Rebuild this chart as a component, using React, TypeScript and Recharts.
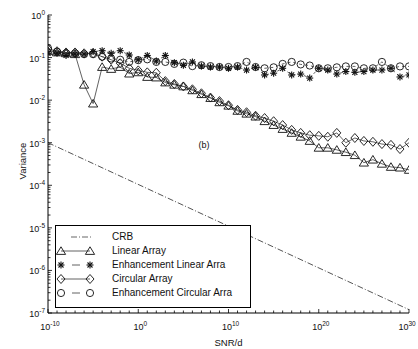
import React from 'react';
import { ComposedChart, Line, XAxis, YAxis, Legend, ReferenceDot, Label } from 'recharts';

// SNR/d sample points (one per decade)
const snr = [1e-10, 1e-9, 1e-8, 1e-7, 1e-6, 1e-5, 1e-4, 1e-3, 1e-2, 1e-1, 1e0, 1e1, 1e2, 1e3, 1e4, 1e5, 1e6, 1e7, 1e8, 1e9, 1e10,
  1e11, 1e12, 1e13, 1e14, 1e15, 1e16, 1e17, 1e18, 1e19, 1e20, 1e21, 1e22, 1e23, 1e24, 1e25, 1e26, 1e27, 1e28, 1e29, 1e30];

const linearArray = [0.141, 0.132, 0.126, 0.12, 0.023, 0.0083, 0.06, 0.054, 0.06, 0.042, 0.045, 0.035, 0.034, 0.026, 0.023, 0.021, 0.017, 0.0138, 0.0112, 0.0089, 0.0074,
  0.0056, 0.0048, 0.0041, 0.0032, 0.0026, 0.0021, 0.0017, 0.00138, 0.0011, 0.00076, 0.00076, 0.00068, 0.0006, 0.00051, 0.00034, 0.0004, 0.00032, 0.00027, 0.00026, 0.00023];

const enhLinearArray = [0.126, 0.126, 0.112, 0.12, 0.12, 0.138, 0.145, 0.126, 0.145, 0.115, 0.089, 0.112, 0.083, 0.112, 0.076, 0.066, 0.079, 0.063, 0.06, 0.06, 0.056,
  0.06, 0.051, 0.059, 0.039, 0.043, 0.056, 0.039, 0.041, 0.033, 0.056, 0.051, 0.041, 0.047, 0.045, 0.047, 0.051, 0.051, 0.056, 0.035, 0.039];

const circularArray = [0.158, 0.141, 0.132, 0.132, 0.126, 0.126, 0.105, 0.089, 0.074, 0.056, 0.05, 0.045, 0.044, 0.028, 0.024, 0.021, 0.018, 0.0145, 0.0115, 0.0095, 0.0076,
  0.0059, 0.0052, 0.0043, 0.0038, 0.0032, 0.0026, 0.002, 0.0017, 0.0015, 0.00145, 0.00138, 0.0017, 0.001, 0.00129, 0.0011, 0.00105, 0.00093, 0.00089, 0.00071, 0.001];

const enhCircularArray = [0.166, 0.138, 0.126, 0.126, 0.12, 0.12, 0.105, 0.095, 0.089, 0.079, 0.087, 0.091, 0.079, 0.079, 0.071, 0.076, 0.063, 0.066, 0.063, 0.06, 0.06,
  0.063, 0.079, 0.06, 0.056, 0.059, 0.071, 0.079, 0.069, 0.065, 0.056, 0.056, 0.059, 0.062, 0.062, 0.056, 0.056, 0.079, 0.056, 0.062, 0.062];

// CRB straight line in log-log (end points)
const crbSnr = [1e-10, 1e30];
const crbValues = [1e-3, 1.2e-7];

const xTickLabels = [1e-10, 1e0, 1e10, 1e20, 1e30];
const yTickLabels = [1e-7, 1e-6, 1e-5, 1e-4, 1e-3, 1e-2, 1e-1, 1e0];
const legendNames = ['CRB', 'Linear Array', 'Enhancement Linear Arra', 'Circular Array', 'Enhancement Circular Arra'];
const panelLabel = '(b)';

const yTicks: number[] = [];
yTickLabels.forEach((d, i) => {
  yTicks.push(d);
  if (i < yTickLabels.length - 1) for (let m = 2; m <= 9; m++) yTicks.push(d * m);
});

const rows = snr.map((s, i) => ({
  snr: s,
  la: linearArray[i],
  ela: enhLinearArray[i],
  ca: circularArray[i],
  eca: enhCircularArray[i],
}));
const crbRows = crbSnr.map((s, i) => ({ snr: s, crb: crbValues[i] }));

const FONT = '"Liberation Sans", Arial, Helvetica, sans-serif';
const INK = '#111';
const LINE = '#3a3a3a';

const expOf = (v: number) => Math.round(Math.log10(v));
const isDecade = (v: number) => Math.abs(Math.log10(v) - Math.round(Math.log10(v))) < 1e-6;

// marker shapes
const Tri = ({ cx, cy }: { cx: number; cy: number }) => (
  <polygon points={`${cx},${cy - 4.2} ${cx - 4.6},${cy + 3.4} ${cx + 4.6},${cy + 3.4}`} fill="none" stroke={INK} strokeWidth={0.9} />
);
const Diam = ({ cx, cy }: { cx: number; cy: number }) => (
  <polygon points={`${cx},${cy - 4.5} ${cx + 4},${cy} ${cx},${cy + 4.5} ${cx - 4},${cy}`} fill="none" stroke={INK} strokeWidth={0.9} />
);
const Circ = ({ cx, cy }: { cx: number; cy: number }) => (
  <circle cx={cx} cy={cy} r={3.6} fill="none" stroke={INK} strokeWidth={0.9} />
);
const Star = ({ cx, cy }: { cx: number; cy: number }) => (
  <g stroke={INK} strokeWidth={1.1}>
    <line x1={cx} y1={cy - 3.5} x2={cx} y2={cy + 3.5} />
    <line x1={cx - 3.5} y1={cy} x2={cx + 3.5} y2={cy} />
    <line x1={cx - 2.5} y1={cy - 2.5} x2={cx + 2.5} y2={cy + 2.5} />
    <line x1={cx - 2.5} y1={cy + 2.5} x2={cx + 2.5} y2={cy - 2.5} />
  </g>
);

const dotOf = (Shape: any, tag: string) => (p: any) => {
  if (p.cx == null || p.cy == null || isNaN(p.cx) || isNaN(p.cy)) return <g key={`${tag}-${p.index}`} />;
  return <Shape key={`${tag}-${p.index}`} cx={p.cx} cy={p.cy} />;
};

const Pow = ({ x, y, e, anchor }: { x: number; y: number; e: number; anchor: 'middle' | 'end' }) => (
  <text x={x} y={y} textAnchor={anchor} fontSize={9} fontFamily={FONT} fill={INK}>
    <tspan>10</tspan>
    <tspan dy={-4} fontSize={6.5}>{e}</tspan>
  </text>
);

const BottomTick = (props: any) => {
  const { x, y, payload } = props;
  const v = payload.value;
  const labeled = xTickLabels.includes(v);
  const isLast = v === xTickLabels[xTickLabels.length - 1];
  return (
    <g>
      <line x1={x} y1={y} x2={x} y2={y - (labeled ? 4 : 2.5)} stroke="#000" strokeWidth={0.8} />
      {labeled && <Pow x={isLast ? x - 2 : x + 2} y={y + 17} e={expOf(v)} anchor="middle" />}
    </g>
  );
};
const TopTick = (props: any) => {
  const { x, y, payload } = props;
  const labeled = xTickLabels.includes(payload.value);
  return <line x1={x} y1={y} x2={x} y2={y + (labeled ? 4 : 2.5)} stroke="#000" strokeWidth={0.8} />;
};
const LeftTick = (props: any) => {
  const { x, y, payload } = props;
  const v = payload.value;
  const major = isDecade(v);
  return (
    <g>
      <line x1={x} y1={y} x2={x + (major ? 4 : 2.5)} y2={y} stroke="#000" strokeWidth={0.8} />
      {major && <Pow x={x - 3} y={y + 4} e={expOf(v)} anchor="end" />}
    </g>
  );
};
const RightTick = (props: any) => {
  const { x, y, payload } = props;
  const major = isDecade(payload.value);
  return <line x1={x} y1={y} x2={x - (major ? 4 : 2.5)} y2={y} stroke="#000" strokeWidth={0.8} />;
};

const legendIcons = [
  () => <line x1={15} y1={7} x2={37} y2={7} stroke="#666" strokeWidth={1} strokeDasharray="6 2 1 2" />,
  () => (<g><line x1={5} y1={7} x2={34} y2={7} stroke={LINE} strokeWidth={0.8} /><Tri cx={5} cy={7} /><Tri cx={34} cy={7} /></g>),
  () => (<g><line x1={16} y1={7} x2={24} y2={7} stroke={LINE} strokeWidth={0.8} /><Star cx={5} cy={7} /><Star cx={34} cy={7} /></g>),
  () => (<g><line x1={5} y1={7} x2={34} y2={7} stroke={LINE} strokeWidth={0.8} /><Diam cx={5} cy={7} /><Diam cx={34} cy={7} /></g>),
  () => (<g><line x1={16} y1={7} x2={24} y2={7} stroke={LINE} strokeWidth={0.8} /><Circ cx={5} cy={7} /><Circ cx={34} cy={7} /></g>),
];

const LegendBox = () => (
  <div style={{ width: 196, height: 83, border: '1px solid #000', background: '#fff', boxSizing: 'border-box', position: 'relative', fontFamily: FONT, fontSize: 10, color: INK }}>
    {legendNames.map((name, i) => {
      const Icon = legendIcons[i];
      return (
        <div key={name} style={{ position: 'absolute', left: 0, top: 4 + 14 * i, height: 14, width: '100%' }}>
          <svg width={50} height={14} style={{ position: 'absolute', left: 0, top: 0, overflow: 'visible' }}>
            <Icon />
          </svg>
          <span style={{ position: 'absolute', left: 56, top: 0, lineHeight: '14px', whiteSpace: 'nowrap' }}>{name}</span>
        </div>
      );
    })}
  </div>
);

const VarianceLabel = (props: any) => {
  const vb = props.viewBox || { x: 0, y: 15, width: 48, height: 298 };
  const cx = vb.x + 22;
  const cy = vb.y + vb.height / 2 - 3;
  return (
    <text x={cx} y={cy} transform={`rotate(-90 ${cx} ${cy})`} textAnchor="middle" dominantBaseline="central" fontSize={9.5} fontFamily={FONT} fill={INK}>
      Variance
    </text>
  );
};

export default function App() {
  return (
    <div style={{ position: 'absolute', left: 0, top: 0, background: '#fff' }}>
      <ComposedChart width={418} height={349} data={rows} margin={{ top: 15, right: 9, bottom: 0, left: 0 }}>
        <XAxis xAxisId="x" dataKey="snr" type="number" scale="log" domain={[1e-10, 1e30]} allowDataOverflow
          ticks={snr} interval={0} tickSize={0} tickMargin={0} tickLine={false} tick={<BottomTick />} height={36}
          axisLine={{ stroke: '#000', strokeWidth: 1 }}>
          <Label value="SNR/d" position="insideBottom" offset={3} style={{ fontSize: 9.5, fontFamily: FONT, fill: INK }} />
        </XAxis>
        <XAxis xAxisId="top" orientation="top" type="number" scale="log" domain={[1e-10, 1e30]} allowDataOverflow
          ticks={snr} interval={0} tickSize={0} tickMargin={0} tickLine={false} tick={<TopTick />} height={0}
          axisLine={{ stroke: '#000', strokeWidth: 1 }} />
        <YAxis yAxisId="y" type="number" scale="log" domain={[1e-7, 1]} allowDataOverflow
          ticks={yTicks} interval={0} tickSize={0} tickMargin={0} tickLine={false} tick={<LeftTick />} width={48}
          axisLine={{ stroke: '#000', strokeWidth: 1 }}>
          <Label content={<VarianceLabel />} />
        </YAxis>
        <YAxis yAxisId="right" orientation="right" type="number" scale="log" domain={[1e-7, 1]} allowDataOverflow
          ticks={yTicks} interval={0} tickSize={0} tickMargin={0} tickLine={false} tick={<RightTick />} width={0}
          axisLine={{ stroke: '#000', strokeWidth: 1 }} />

        <Line xAxisId="x" yAxisId="y" data={crbRows} dataKey="crb" stroke="#555" strokeWidth={1} strokeDasharray="6 2 1 2"
          dot={false} activeDot={false} isAnimationActive={false} legendType="none" />
        <Line xAxisId="x" yAxisId="y" dataKey="eca" stroke={LINE} strokeWidth={0.8} strokeDasharray="3 3"
          dot={dotOf(Circ, 'eca')} activeDot={false} isAnimationActive={false} />
        <Line xAxisId="x" yAxisId="y" dataKey="ela" stroke={LINE} strokeWidth={0.8} strokeDasharray="3 3"
          dot={dotOf(Star, 'ela')} activeDot={false} isAnimationActive={false} />
        <Line xAxisId="x" yAxisId="y" dataKey="ca" stroke={LINE} strokeWidth={0.8}
          dot={dotOf(Diam, 'ca')} activeDot={false} isAnimationActive={false} />
        <Line xAxisId="x" yAxisId="y" dataKey="la" stroke={LINE} strokeWidth={0.8}
          dot={dotOf(Tri, 'la')} activeDot={false} isAnimationActive={false} />

        <ReferenceDot xAxisId="x" yAxisId="y" x={1.9e7} y={8.9e-4} r={0}
          shape={(p: any) => (
            <text x={p.cx} y={p.cy + 3} textAnchor="middle" fontSize={9} fontFamily={FONT} fill={INK}>{panelLabel}</text>
          )} />

        <Legend layout="vertical" align="center" verticalAlign="middle" width={196} height={83}
          wrapperStyle={{ left: 55, top: 225, width: 196, height: 83 }} content={() => <LegendBox />} />
      </ComposedChart>
    </div>
  );
}
